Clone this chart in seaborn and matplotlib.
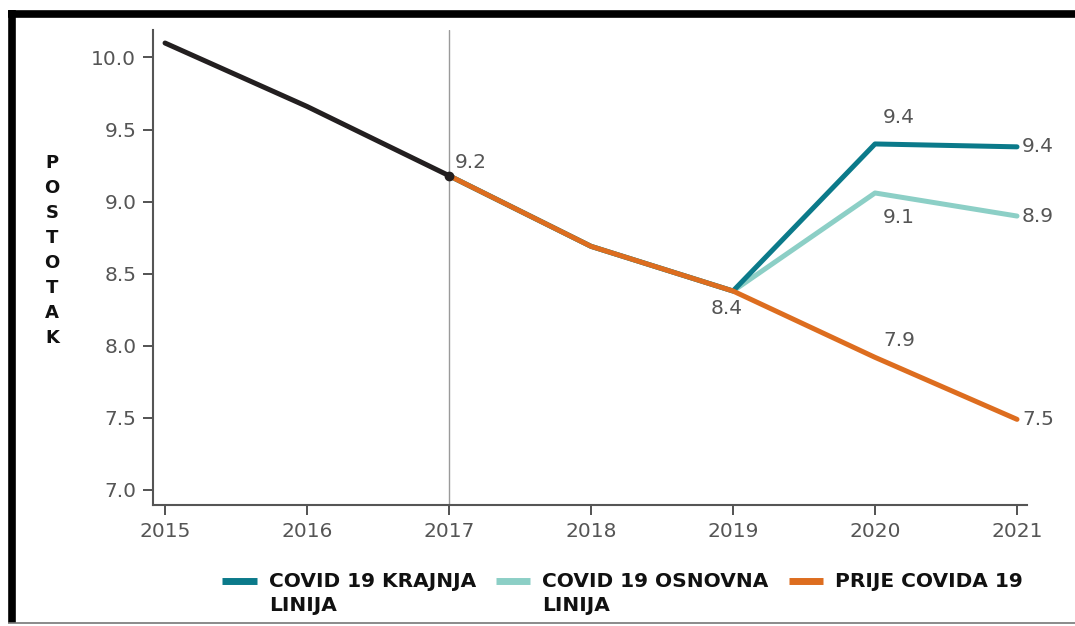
import numpy as np
import pandas as pd
import matplotlib.pyplot as plt
from matplotlib.lines import Line2D
from matplotlib.legend_handler import HandlerLine2D
import seaborn as sns

# Data
years_hist = [2015, 2016, 2017]
vals_hist = [10.10, 9.66, 9.18]

years_fc = [2017, 2018, 2019, 2020, 2021]
vals_krajnja = [9.18, 8.69, 8.38, 9.40, 9.38]
vals_osnovna = [9.18, 8.69, 8.38, 9.06, 8.90]
vals_prije = [9.18, 8.69, 8.38, 7.92, 7.49]

series_names = ["COVID 19 KRAJNJA\nLINIJA", "COVID 19 OSNOVNA\nLINIJA", "PRIJE COVIDA 19"]
colors = {"hist": "#231f20",
          series_names[0]: "#0b7a8a",
          series_names[1]: "#8ccfc6",
          series_names[2]: "#dd6d1f"}

sns.set_style("ticks")
plt.rcParams['font.family'] = ['DejaVu Sans']


class TopLineHandler(HandlerLine2D):
    # put the legend swatch level with the first text line
    def __init__(self, dy, **kw):
        super().__init__(**kw)
        self.dy = dy

    def create_artists(self, legend, orig_handle, xdescent, ydescent, width, height, fontsize, trans):
        arts = super().create_artists(legend, orig_handle, xdescent, ydescent, width, height, fontsize, trans)
        for a in arts:
            a.set_ydata(np.asarray(a.get_ydata()) + self.dy)
        return arts


df = pd.concat([
    pd.DataFrame({"year": years_fc, "value": vals_osnovna, "series": series_names[1]}),
    pd.DataFrame({"year": years_fc, "value": vals_krajnja, "series": series_names[0]}),
    pd.DataFrame({"year": years_fc, "value": vals_prije, "series": series_names[2]}),
    pd.DataFrame({"year": years_hist, "value": vals_hist, "series": "hist"}),
], ignore_index=True)

fig = plt.figure(figsize=(10.75, 6.26), dpi=100)
ax = fig.add_axes([0.1423, 0.1933, 0.8130, 0.7587])

ax.axvline(2017, color="#9a9a9a", lw=1.0, zorder=1)

sns.lineplot(data=df, x="year", y="value", hue="series",
             hue_order=[series_names[1], series_names[0], series_names[2], "hist"],
             palette=colors, linewidth=3.6, legend=False, ax=ax, zorder=3)
ax.plot([years_hist[-1]], [vals_hist[-1]], "o", color=colors["hist"], ms=6, zorder=5)

ax.set_xlim(2014.915, 2021.07)
ax.set_ylim(6.896, 10.19)
ax.set_xticks(range(2015, 2022))
ax.set_yticks(np.arange(7.0, 10.01, 0.5))
ax.yaxis.set_major_formatter(plt.FuncFormatter(lambda v, p: f"{v:.1f}"))
ax.tick_params(axis="both", direction="out", length=7, width=1.3, color="#444444",
               labelsize=14.5, labelcolor="#555555", pad=5)
for s in ["left", "bottom"]:
    ax.spines[s].set_color("#555555")
    ax.spines[s].set_linewidth(1.5)
sns.despine(ax=ax)
ax.set_xlabel("")
ax.set_ylabel("\n".join("POSTOTAK"), rotation=0, fontsize=13, fontweight="bold",
              color="#111111", linespacing=1.5, va="center", ha="center")
ax.yaxis.set_label_coords(-0.1156, 0.535)

# value labels
lab_kw = dict(textcoords="offset pixels", fontsize=14.5, color="#555555")
ax.annotate(f"{vals_hist[-1]:.1f}", (2017, vals_hist[-1]), xytext=(6, 4), ha="left", va="bottom", **lab_kw)
ax.annotate(f"{vals_prije[2]:.1f}", (2019, vals_prije[2]), xytext=(-6, -8), ha="center", va="top", **lab_kw)
ax.annotate(f"{vals_krajnja[3]:.1f}", (2020, vals_krajnja[3]), xytext=(24, 17), ha="center", va="bottom", **lab_kw)
ax.annotate(f"{vals_osnovna[3]:.1f}", (2020, vals_osnovna[3]), xytext=(24, -15), ha="center", va="top", **lab_kw)
ax.annotate(f"{vals_prije[3]:.1f}", (2020, vals_prije[3]), xytext=(24, 7), ha="center", va="bottom", **lab_kw)
for vals in [vals_krajnja, vals_osnovna, vals_prije]:
    ax.annotate(f"{vals[4]:.1f}", (2021, vals[4]), xytext=(5, 0), ha="left", va="center", **lab_kw)

# legend below the axes; every label gets two lines so the rows line up at the top
handles = [Line2D([], [], color=colors[n], lw=5, solid_capstyle="butt") for n in series_names]
labels = [n if "\n" in n else n + "\n" for n in series_names]
leg = fig.legend(handles, labels, loc="upper left", bbox_to_anchor=(0.19, 0.115),
                 ncol=3, frameon=False, handlelength=1.7, handletextpad=0.6, columnspacing=1.0,
                 prop={"weight": "bold", "size": 14.5}, labelcolor="#111111",
                 handler_map={Line2D: TopLineHandler(dy=9.0)})
for t in leg.get_texts():
    t.set_linespacing(1.3)

# outer frame of the original graphic
fig.add_artist(Line2D([0.0075, 1.0], [0.978, 0.978], color="black", lw=5.5, solid_capstyle="butt"))
fig.add_artist(Line2D([0.011, 0.011], [0.004, 0.984], color="black", lw=5.5, solid_capstyle="butt"))
fig.add_artist(Line2D([0.0075, 1.0], [0.005, 0.005], color="#777777", lw=1.2, solid_capstyle="butt"))

fig.savefig("out.png", dpi=100)
